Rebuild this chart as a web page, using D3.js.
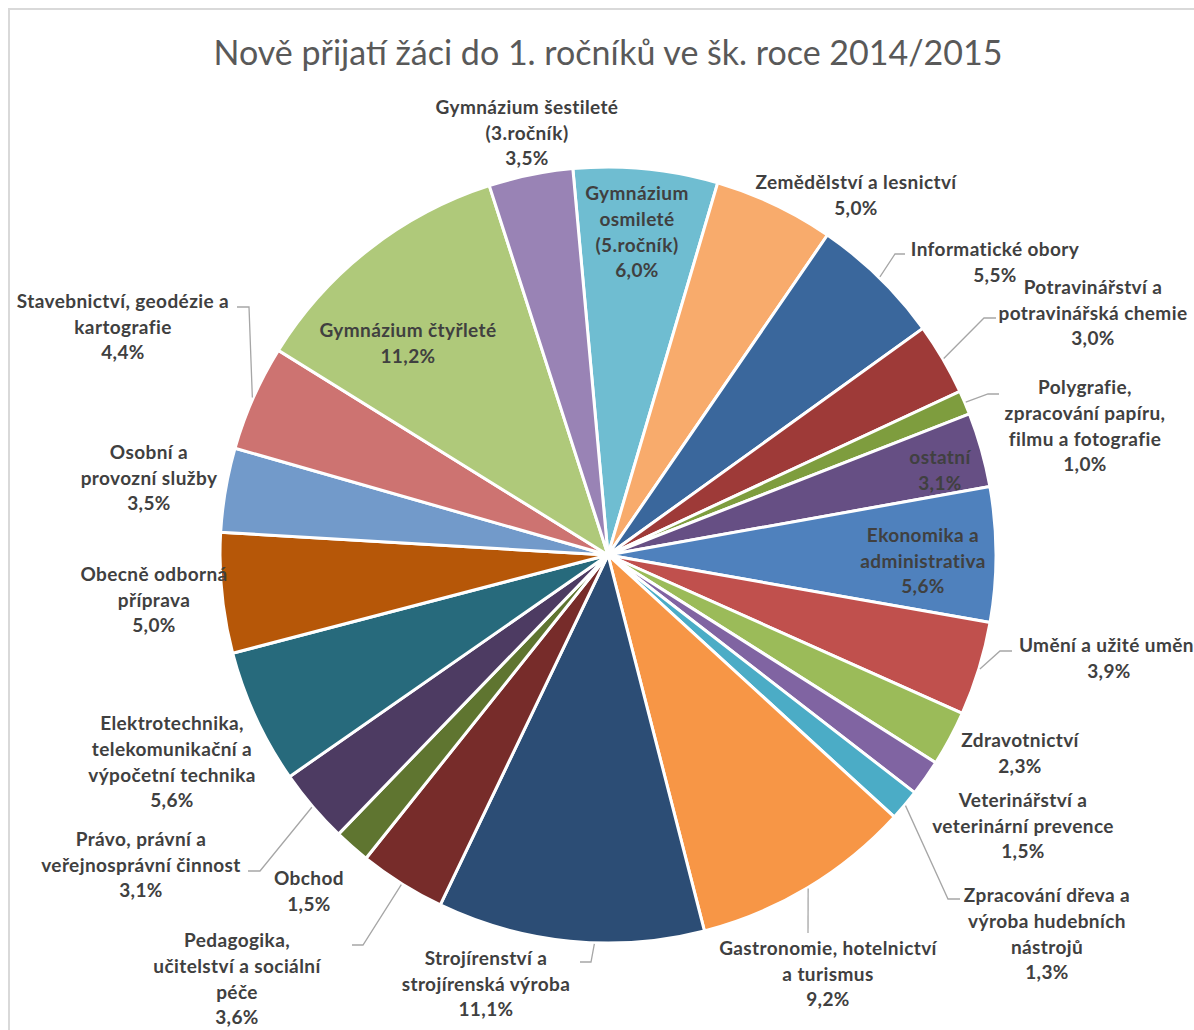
<!DOCTYPE html>
<html lang="cs">
<head>
<meta charset="utf-8">
<title>Nově přijatí žáci</title>
<script src="https://d3js.org/d3.v7.min.js"></script>
<style>
  body { margin: 0; background: #fff; }
  .title { font-family: Lato, "Open Sans", sans-serif; font-size: 34px; fill: #595959; }
  .label { font-family: Lato, "Open Sans", sans-serif; font-size: 19px; font-weight: bold; letter-spacing: 0.4px; fill: #404040; }
  .leader { fill: none; stroke: #a6a6a6; stroke-width: 1.3px; }
  .slices path { stroke: #fff; stroke-width: 3px; }
</style>
</head>
<body>
<div id="chart"></div>
<script>
// data, clockwise starting at the top
var categories = [
  "Gymnázium osmileté (5.ročník)", "Zemědělství a lesnictví", "Informatické obory",
  "Potravinářství a potravinářská chemie", "Polygrafie, zpracování papíru, filmu a fotografie",
  "ostatní", "Ekonomika a administrativa", "Umění a užité umění", "Zdravotnictví",
  "Veterinářství a veterinární prevence", "Zpracování dřeva a výroba hudebních nástrojů",
  "Gastronomie, hotelnictví a turismus", "Strojírenství a strojírenská výroba",
  "Pedagogika, učitelství a sociální péče", "Obchod", "Právo, právní a veřejnosprávní činnost",
  "Elektrotechnika, telekomunikační a výpočetní technika", "Obecně odborná příprava",
  "Osobní a provozní služby", "Stavebnictví, geodézie a kartografie",
  "Gymnázium čtyřleté", "Gymnázium šestileté (3.ročník)"
];
var shares = [6.0, 5.0, 5.5, 3.0, 1.0, 3.1, 5.6, 3.9, 2.3, 1.5, 1.3, 9.2, 11.1, 3.6, 1.5, 3.1, 5.6, 5.0, 3.5, 4.4, 11.2, 3.5];

// label text as wrapped in the chart
var labelLines = [
  ["Gymnázium", "osmileté", "(5.ročník)"],
  ["Zemědělství a lesnictví"],
  ["Informatické obory"],
  ["Potravinářství a", "potravinářská chemie"],
  ["Polygrafie,", "zpracování papíru,", "filmu a fotografie"],
  ["ostatní"],
  ["Ekonomika a", "administrativa"],
  ["Umění a užité umění"],
  ["Zdravotnictví"],
  ["Veterinářství a", "veterinární prevence"],
  ["Zpracování dřeva a", "výroba hudebních", "nástrojů"],
  ["Gastronomie, hotelnictví", "a turismus"],
  ["Strojírenství a", "strojírenská výroba"],
  ["Pedagogika,", "učitelství a sociální", "péče"],
  ["Obchod"],
  ["Právo, právní a", "veřejnosprávní činnost"],
  ["Elektrotechnika,", "telekomunikační a", "výpočetní technika"],
  ["Obecně odborná", "příprava"],
  ["Osobní a", "provozní služby"],
  ["Stavebnictví, geodézie a", "kartografie"],
  ["Gymnázium čtyřleté"],
  ["Gymnázium šestileté", "(3.ročník)"]
];

var colors = [
  "#6fbdd1", "#f8ab6c", "#3a679c", "#9e3a38", "#7e9d3e", "#664f84", "#4f81bd", "#c0504d",
  "#9bbb59", "#8064a2", "#4bacc6", "#f79646", "#2c4d75", "#772c2a", "#5f7530", "#4d3b62",
  "#276a7c", "#b65708", "#729aca", "#cd7371", "#afc97a", "#9983b5"
];

// hand placed label blocks (centre of block) and leader elbows
var labelLayout = [
  {x: 637, y: 232},
  {x: 856, y: 195},
  {x: 995, y: 262, elbow: [895, 254], end: [905, 254]},
  {x: 1093, y: 313, elbow: [984, 318], end: [996, 318]},
  {x: 1085, y: 426, elbow: [988, 394], end: [999, 394]},
  {x: 940, y: 470},
  {x: 923, y: 561},
  {x: 1109, y: 658, elbow: [1000, 651], end: [1012, 651]},
  {x: 1020, y: 753},
  {x: 1023, y: 826},
  {x: 1047, y: 934, elbow: [948, 899], end: [960, 899]},
  {x: 828, y: 974, elbow: [808, 933], end: [808, 933]},
  {x: 486, y: 984, at: 0.41, elbow: [591, 962], end: [580, 962]},
  {x: 237, y: 979, elbow: [363, 945], end: [352, 945]},
  {x: 309, y: 891},
  {x: 141, y: 865, elbow: [260, 871], end: [248, 871]},
  {x: 172, y: 762},
  {x: 154, y: 600},
  {x: 149, y: 478},
  {x: 123, y: 327, elbow: [249, 307], end: [237, 307]},
  {x: 408, y: 343},
  {x: 527, y: 133}
];

var width = 1194, height = 1030;
var cx = 608, cy = 555, radius = 388;
var lineH = 25.7;
var startDeg = -5.2;

var cz = d3.formatLocale({decimal: ",", thousands: " ", grouping: [3], currency: ["", " Kč"]});
var pct = cz.format(".1f");

var svg = d3.select("#chart").append("svg")
    .attr("width", width)
    .attr("height", height);

// chart frame
svg.append("rect")
    .attr("x", 9).attr("y", 9)
    .attr("width", width + 20).attr("height", height + 20)
    .attr("fill", "#fff")
    .attr("stroke", "#d9d9d9")
    .attr("stroke-width", 2);

svg.append("text")
    .attr("class", "title")
    .attr("x", cx)
    .attr("y", 65)
    .attr("text-anchor", "middle")
    .text("Nově přijatí žáci do 1. ročníků ve šk. roce 2014/2015");

var data = shares.map(function(v, i) {
  return {name: categories[i], value: v, lines: labelLines[i], color: colors[i], layout: labelLayout[i]};
});

var a0 = startDeg * Math.PI / 180;
var pie = d3.pie()
    .sort(null)
    .value(function(d) { return d.value; })
    .startAngle(a0)
    .endAngle(a0 + 2 * Math.PI);

var arc = d3.arc().innerRadius(0).outerRadius(radius);

var arcs = pie(data);

var g = svg.append("g").attr("transform", "translate(" + cx + "," + cy + ")");

g.append("g").attr("class", "slices")
  .selectAll("path")
  .data(arcs)
  .enter().append("path")
    .attr("d", arc)
    .attr("fill", function(d) { return d.data.color; });

// leader lines
var leaders = arcs.filter(function(d) { return d.data.layout.elbow; });
svg.append("g")
  .selectAll("polyline")
  .data(leaders)
  .enter().append("polyline")
    .attr("class", "leader")
    .attr("points", function(d) {
      var f = d.data.layout.at == null ? 0.5 : d.data.layout.at;
      var a = d.startAngle + (d.endAngle - d.startAngle) * f;
      var p0 = [cx + Math.sin(a) * (radius + 1), cy - Math.cos(a) * (radius + 1)];
      return [p0, d.data.layout.elbow, d.data.layout.end].map(function(p) { return p.join(","); }).join(" ");
    });

// labels
var labels = svg.append("g")
  .selectAll("text")
  .data(arcs)
  .enter().append("text")
    .attr("class", "label")
    .attr("text-anchor", "middle");

labels.each(function(d) {
  var lines = d.data.lines.concat([pct(d.data.value) + "%"]);
  var top = d.data.layout.y - (lines.length - 1) * lineH / 2;
  var t = d3.select(this);
  lines.forEach(function(s, i) {
    t.append("tspan")
      .attr("x", d.data.layout.x)
      .attr("y", top + i * lineH)
      .attr("dy", "0.35em")
      .text(s);
  });
});
</script>
</body>
</html>
